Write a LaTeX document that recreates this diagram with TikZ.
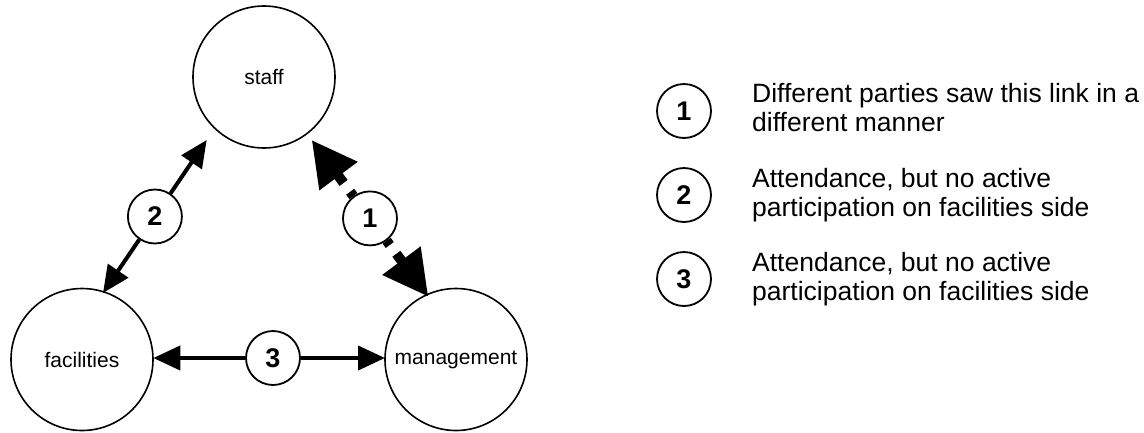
\documentclass[tikz,border=0pt]{standalone}
\usepackage{fontspec}
\setmainfont{Liberation Sans}
\usetikzlibrary{arrows.meta}
\begin{document}
\begin{tikzpicture}[x=1pt,y=-1pt,
  party/.style={circle, draw, line width=1.6pt, minimum size=142pt, inner sep=0pt,
    font=\fontsize{21}{24}\selectfont},
  num/.style={circle, draw, line width=1.8pt, fill=white, minimum size=54pt, inner sep=0pt,
    font=\fontsize{27}{30}\selectfont\bfseries},
  link/.style={line width=4pt, -{Triangle[length=27pt,width=24pt]}},
  disputed/.style={line width=10pt, dash pattern=on 11pt off 11pt,
    {Triangle[length=45pt,width=45pt]}-},
  note/.style={anchor=base west, align=left, inner sep=0pt,
    font=\fontsize{26.5}{29}\selectfont}]
\useasboundingbox (0,0) rectangle (1144,432);

% the three parties
\node[party] (staff) at (264,77) {staff};
\node[party] (fac) at (82,359.5) {facilities};
\node[party] (mgmt) at (456,359.5) {management};

% arrow tip positions near the parties
\coordinate (t1s) at (311.7,140);
\coordinate (t1m) at (428.3,296.7);
\coordinate (t2s) at (206.7,140);
\coordinate (t2f) at (103,293);
\coordinate (t3f) at (153.3,358);
\coordinate (t3m) at (385,358);

% numbered markers on the links
\node[num] (n1) at (370,218.4) {1};
\node[num] (n2) at (154.9,216.5) {2};
\node[num] (n3) at (273,358) {3};

% links
\draw[disputed] (t1s) -- (n1);
\draw[disputed] (t1m) -- (n1);
\draw[link] (n2) -- (t2s);
\draw[link] (n2) -- (t2f);
\draw[link] (n3) -- (t3f);
\draw[link] (n3) -- (t3m);

% legend (base anchor sits on the last line of each note)
\node[num] (k1) at (684,111) {1};
\node[num] (k2) at (684,195) {2};
\node[num] (k3) at (684,279) {3};
\node[note] (d1) at (752,131) {Different parties saw this link in a\\different manner};
\node[note] (d2) at (752,216) {Attendance, but no active\\participation on facilities side};
\node[note] (d3) at (752,300) {Attendance, but no active\\participation on facilities side};
\end{tikzpicture}
\end{document}
